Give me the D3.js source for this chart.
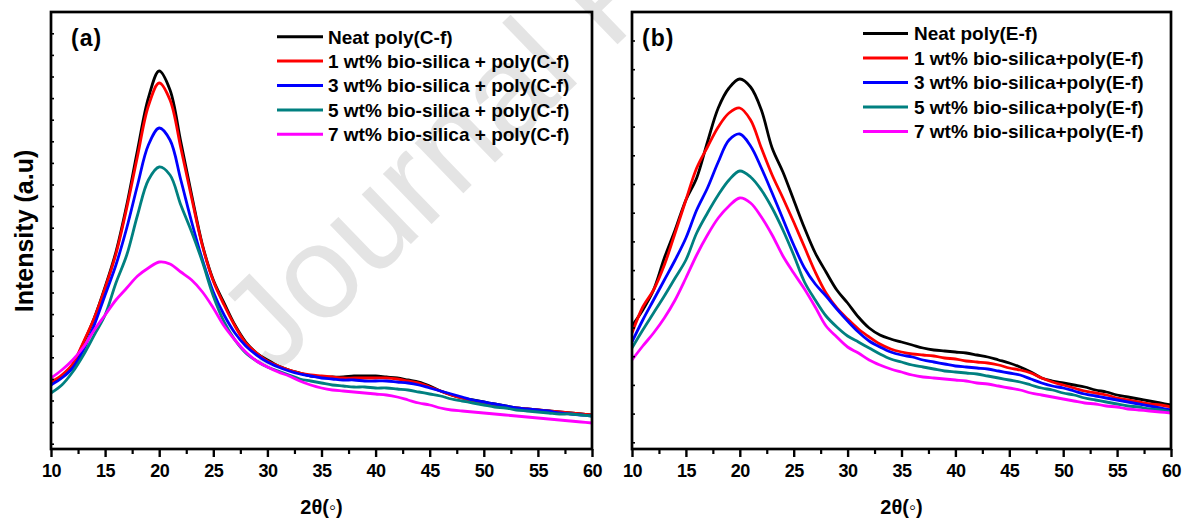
<!DOCTYPE html>
<html><head><meta charset="utf-8">
<script src="https://cdn.jsdelivr.net/npm/d3@7"></script>
<style>
body{margin:0;background:#fff}
svg{display:block}
text{font-family:"Liberation Sans",Arial,sans-serif;font-weight:bold;fill:#000}
</style>
</head><body>
<svg id="chart" width="1189" height="522"></svg>
<script>
// ---------- data (intensity in arbitrary units) ----------
const theta = [10,11,12,13,14,15,16,17,18,19,20,21,22,23,24,25,26,27,28,29,30,31,32,33,34,35,36,37,38,39,40,41,42,43,44,45,46,47,48,49,50,51,52,53,54,55,56,57,58,59,60];

const aNeat = [66,73,84,106,131,162,197,244,299,351,378,359,307,254,204,169,146,124,107,96,89,83,79,76,73,72,72,72,73,73,73,72,71,69,67,63,58,54,51,49,47,45,43,41,40,39,38,37,36,35,34];
const a1    = [67,74,85,107,131,161,195,241,293,343,366,349,301,251,203,168,144,123,106,96,88,83,79,76,74,73,72,71,71,71,71,71,70,68,66,62,58,54,51,48,46,44,42,41,40,39,38,37,36,35,34];
const a3    = [64,71,81,99,124,154,184,221,264,304,321,309,269,227,189,157,134,116,103,94,87,82,78,75,73,71,70,69,69,68,68,68,67,66,64,61,58,55,52,49,47,45,43,41,40,39,38,36,35,34,33];
const a5    = [56,64,77,94,114,134,166,194,234,269,282,274,244,217,187,153,127,109,96,88,82,78,74,70,68,66,64,63,62,62,61,61,60,59,57,55,53,50,48,46,44,42,41,39,38,37,36,35,35,34,33];
const a7    = [71,79,89,102,119,134,149,161,173,181,187,185,177,169,157,141,123,109,97,88,82,77,73,68,64,61,59,58,57,56,55,54,52,49,46,44,41,39,38,37,36,35,34,33,32,31,30,29,28,27,26];

const bNeat = [123,139,159,191,219,249,271,307,341,361,370,362,339,301,277,249,221,196,177,159,146,132,121,114,110,107,104,101,99,98,97,96,94,92,89,86,82,77,71,68,66,64,62,59,57,54,52,50,48,46,44];
const b1    = [116,142,159,184,216,249,281,302,322,336,341,329,301,274,251,227,202,177,156,141,130,120,112,105,100,97,95,94,93,91,90,88,87,86,84,81,79,76,71,67,64,61,58,56,54,51,49,47,45,44,42];
const b3    = [107,129,149,169,189,211,239,261,287,309,315,303,281,256,230,204,181,165,153,140,128,117,108,102,97,94,92,89,87,85,83,82,81,80,78,76,74,70,66,63,61,58,55,53,51,49,47,45,43,41,39];
const b5    = [101,119,136,153,171,189,216,236,254,269,278,272,259,241,219,194,167,149,133,122,113,107,101,95,90,87,84,82,80,78,77,76,75,73,71,69,67,64,61,59,56,54,51,49,47,45,43,42,40,39,37];
const b7    = [89,103,116,131,149,171,194,214,231,243,251,246,232,214,193,176,160,142,123,112,102,96,89,84,80,77,74,72,71,70,69,68,66,65,63,61,59,56,54,52,50,48,46,45,43,42,40,39,38,37,36];

const labelsA = ["Neat poly(C-f)","1 wt% bio-silica + poly(C-f)","3 wt% bio-silica + poly(C-f)","5 wt% bio-silica + poly(C-f)","7 wt% bio-silica + poly(C-f)"];
const labelsB = ["Neat poly(E-f)","1 wt% bio-silica+poly(E-f)","3 wt% bio-silica+poly(E-f)","5 wt% bio-silica+poly(E-f)","7 wt% bio-silica+poly(E-f)"];
const colors  = ["#000000","#ff0000","#0000ff","#008080","#ff00ff"];
const xTicks  = [10,15,20,25,30,35,40,45,50,55,60];
const xMinor  = [12.5,17.5,22.5,27.5,32.5,37.5,42.5,47.5,52.5,57.5];
const xTitle  = "2θ(◦)";
const yTitle  = "Intensity (a.u)";
const panelTags = ["(a)","(b)"];
const watermark = "Journal Pre-proof";

// ---------- layout ----------
const svg = d3.select("#chart");
const TOP = 12, BOTTOM = 449;

// watermark (behind everything)
svg.append("text").text(watermark)
  .attr("transform","translate(272,378) rotate(-44)")
  .style("font-weight","normal").style("font-size","132px").style("fill","#e4e4e4");

const panels = [
  {left:51, right:592, series:[aNeat,a1,a3,a5,a7], labels:labelsA, tag:panelTags[0],
   tagX:71, legLine:[277,323], legText:328, legY:[36.7,61,85.5,110,134.3], yTick0:5.3, yStep:21.6},
  {left:632, right:1171, series:[bNeat,b1,b3,b5,b7], labels:labelsB, tag:panelTags[1],
   tagX:642, legLine:[863,908], legText:914, legY:[33.5,58,82.5,107,131.5], yTick0:6.7, yStep:28.7}
];

panels.forEach((p,pi)=>{
  const g = svg.append("g");
  const x = d3.scaleLinear().domain([10,60]).range([p.left,p.right]);
  const y = d3.scaleLinear().domain([0,437]).range([BOTTOM,TOP]);

  const clipId = "clip"+pi;
  svg.append("clipPath").attr("id",clipId).append("rect")
    .attr("x",p.left).attr("y",TOP).attr("width",p.right-p.left).attr("height",BOTTOM-TOP);

  // curves
  const line = d3.line().x((d,i)=>x(theta[i])).y(d=>y(d)).curve(d3.curveCatmullRom.alpha(0.5));
  p.series.forEach((s,si)=>{
    g.append("path").attr("d",line(s)).attr("fill","none")
      .attr("stroke",colors[si]).attr("stroke-width",2.8)
      .attr("stroke-linejoin","round").attr("clip-path",`url(#${clipId})`);
  });

  // bottom axis major
  const ax = g.append("g").attr("transform",`translate(0,${BOTTOM})`)
    .call(d3.axisBottom(x).tickValues(xTicks).tickSize(8).tickPadding(7).tickFormat(d3.format("d")));
  ax.select(".domain").remove();
  ax.selectAll("line").attr("stroke","#000").attr("stroke-width",2.4);
  ax.selectAll("text").style("font-size","18px").style("font-family",'"Liberation Sans",Arial,sans-serif')
    .style("font-weight","bold").style("letter-spacing","-0.5px").attr("fill","#000");
  // minor
  const axm = g.append("g").attr("transform",`translate(0,${BOTTOM})`)
    .call(d3.axisBottom(x).tickValues(xMinor).tickSize(5).tickFormat(""));
  axm.select(".domain").remove();
  axm.selectAll("line").attr("stroke","#000").attr("stroke-width",2.2);

  // left axis small inward ticks
  const yTicks = d3.range(p.yTick0, 437, p.yStep);
  const ay = g.append("g").attr("transform",`translate(${p.left},0)`)
    .call(d3.axisLeft(y).tickValues(yTicks).tickSize(-3).tickFormat(""));
  ay.select(".domain").remove();
  ay.selectAll("line").attr("stroke","#000").attr("stroke-width",1.6);

  // frame
  g.append("rect").attr("x",p.left).attr("y",TOP).attr("width",p.right-p.left).attr("height",BOTTOM-TOP)
    .attr("fill","none").attr("stroke","#000").attr("stroke-width",2.7);

  // panel tag
  g.append("text").text(p.tag).attr("x",p.tagX).attr("y",46)
    .style("font-size","23px").style("letter-spacing","1px");

  // legend
  p.labels.forEach((lab,i)=>{
    g.append("line").attr("x1",p.legLine[0]).attr("x2",p.legLine[1])
      .attr("y1",p.legY[i]).attr("y2",p.legY[i])
      .attr("stroke",colors[i]).attr("stroke-width",3);
    g.append("text").text(lab).attr("x",p.legText).attr("y",p.legY[i]+6.8)
      .style("font-size","19px");
  });

  // x title
  g.append("text").text(xTitle).attr("x",(p.left+p.right)/2).attr("y",514)
    .attr("text-anchor","middle").style("font-size","20px");
});

// y title
svg.append("text").text(yTitle)
  .attr("transform","translate(33,231) rotate(-90)")
  .attr("text-anchor","middle").style("font-size","25px");
</script>
</body></html>
